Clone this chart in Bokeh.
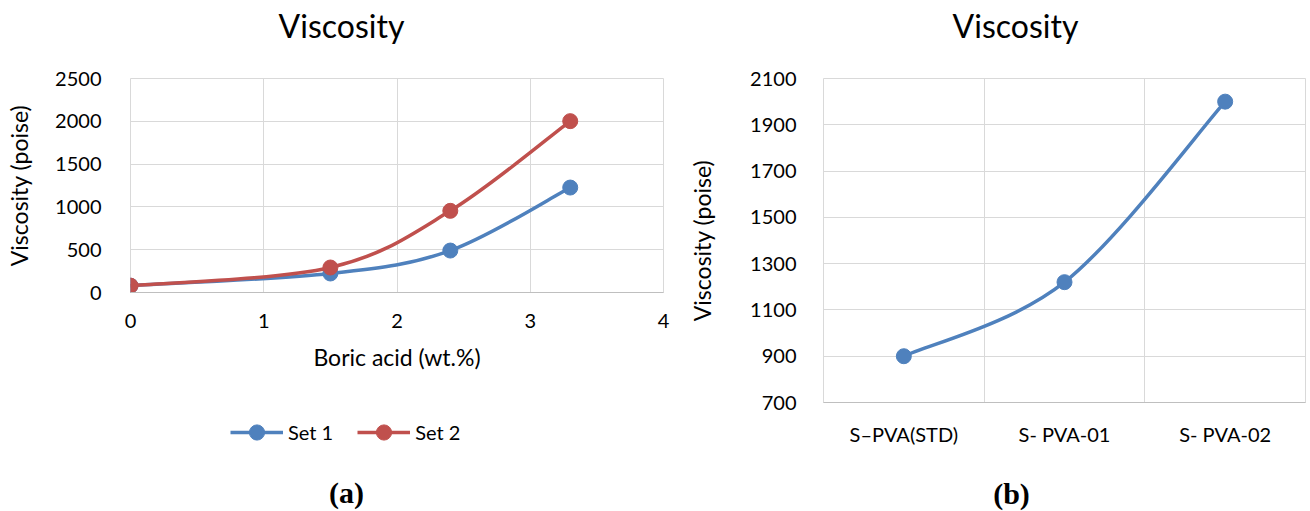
import numpy as np
from bokeh.plotting import figure
from bokeh.layouts import row, column
from bokeh.models import (Label, Legend, LegendItem, FixedTicker, Range1d)
from bokeh.embed import file_html
from bokeh.resources import INLINE

# ---------------- data ----------------
boric_acid = [0, 1.5, 2.4, 3.3]
set1 = [80, 222, 490, 1226]
set2 = [80, 292, 954, 2002]

samples = ["S\u2013PVA(STD)", "S- PVA-01", "S- PVA-02"]
viscosity_b = [900, 1220, 2000]

x_ticks_a = [0, 1, 2, 3, 4]
y_ticks_a = [0, 500, 1000, 1500, 2000, 2500]
y_ticks_b = [700, 900, 1100, 1300, 1500, 1700, 1900, 2100]

BLUE = "#4f81bd"
RED = "#c0504d"
GRID = "#d9d9d9"
FONT = "Lato"


def smooth_segments(xs, ys):
    """Catmull-Rom style Bezier control points (Excel-like smoothing)."""
    x = np.asarray(xs, float)
    y = np.asarray(ys, float)
    xp = np.concatenate([[x[0]], x, [x[-1]]])
    yp = np.concatenate([[y[0]], y, [y[-1]]])
    n = len(x) - 1
    d = dict(x0=[], y0=[], x1=[], y1=[], cx0=[], cy0=[], cx1=[], cy1=[])
    for i in range(n):
        p0x, p0y = xp[i], yp[i]
        p1x, p1y = xp[i + 1], yp[i + 1]
        p2x, p2y = xp[i + 2], yp[i + 2]
        p3x, p3y = xp[i + 3], yp[i + 3]
        d["x0"].append(p1x); d["y0"].append(p1y)
        d["x1"].append(p2x); d["y1"].append(p2y)
        d["cx0"].append(p1x + (p2x - p0x) / 6); d["cy0"].append(p1y + (p2y - p0y) / 6)
        d["cx1"].append(p2x - (p3x - p1x) / 6); d["cy1"].append(p2y - (p3y - p1y) / 6)
    return d


def style(p):
    p.outline_line_color = GRID
    p.xgrid.grid_line_color = GRID
    p.ygrid.grid_line_color = GRID
    for ax in (p.xaxis[0], p.yaxis[0]):
        ax.major_tick_line_color = None
        ax.minor_tick_line_color = None
        ax.major_label_text_font = FONT
        ax.major_label_text_font_size = "20px"
        ax.major_label_text_color = "black"
        ax.axis_label_text_font = FONT
        ax.axis_label_text_font_size = "23px"
        ax.axis_label_text_font_style = "normal"
        ax.axis_label_text_color = "black"
    p.yaxis[0].axis_line_color = None
    p.xaxis[0].axis_line_color = "#bfbfbf"
    p.background_fill_color = "white"
    p.border_fill_color = "white"


def strip(width, height, left, right):
    """Blank strip (no axes) used to hold titles, legend and captions."""
    s = figure(width=width, height=height, output_backend="svg", toolbar_location=None,
               x_range=Range1d(0, 1), y_range=Range1d(0, 1),
               x_axis_type=None, y_axis_type=None,
               min_border_left=left, min_border_right=right,
               min_border_top=0, min_border_bottom=0)
    s.outline_line_color = None
    s.background_fill_color = "white"
    s.border_fill_color = "white"
    return s


def text_label(x, y, text, serif=False):
    return Label(x=x, y=y, x_units="screen", y_units="screen", text=text,
                 text_font="Liberation Serif" if serif else FONT,
                 text_font_size="30px" if serif else "32px",
                 text_font_style="bold" if serif else "normal",
                 text_align="center", text_baseline="middle", text_color="black")


# ---------------- panel (a) ----------------
ta = strip(680, 66, 130, 17)
ta.add_layout(text_label(211, 41, "Viscosity"))

pa = figure(width=680, height=308, output_backend="svg", toolbar_location=None,
            x_range=Range1d(0, 4), y_range=Range1d(0, 2500),
            min_border_left=130, min_border_right=17,
            min_border_top=12, min_border_bottom=82)
style(pa)
pa.xaxis.ticker = FixedTicker(ticks=x_ticks_a)
pa.yaxis.ticker = FixedTicker(ticks=y_ticks_a)
pa.xaxis.axis_label = "Boric acid (wt.%)"
pa.yaxis.axis_label = "Viscosity (poise)"
pa.yaxis.major_label_standoff = 23
pa.yaxis.axis_label_standoff = 19
pa.xaxis.major_label_standoff = 15
pa.xaxis.axis_label_standoff = 12

s1 = smooth_segments(boric_acid, set1)
s2 = smooth_segments(boric_acid, set2)
pa.bezier(line_color=BLUE, line_width=3.5, **s1)
pa.scatter(boric_acid, set1, size=15, fill_color=BLUE, line_color=BLUE)
pa.bezier(line_color=RED, line_width=3.5, **s2)
pa.scatter(boric_acid, set2, size=15, fill_color=RED, line_color=RED)

pl = strip(680, 137, 130, 17)
pl.x_range = Range1d(0, 4)
pl.y_range = Range1d(0, 2500)
lb1 = pl.bezier(line_color=BLUE, line_width=3.5, visible=False, **s1)
ls1 = pl.scatter(boric_acid, set1, size=15, fill_color=BLUE, line_color=BLUE, visible=False)
lb2 = pl.bezier(line_color=RED, line_width=3.5, visible=False, **s2)
ls2 = pl.scatter(boric_acid, set2, size=15, fill_color=RED, line_color=RED, visible=False)
legend = Legend(items=[LegendItem(label="Set 1", renderers=[lb1, ls1]),
                       LegendItem(label="Set 2", renderers=[lb2, ls2])],
                orientation="horizontal", location=(100, 60),
                glyph_width=53, glyph_height=38, label_standoff=5, spacing=24,
                padding=0, margin=0, border_line_color=None,
                background_fill_alpha=0, inactive_fill_alpha=0,
                click_policy="none",
                label_text_font=FONT, label_text_font_size="20px",
                label_text_color="black")
pl.add_layout(legend, "center")
pl.add_layout(text_label(216, 19, "(a)", serif=True))

# ---------------- panel (b) ----------------
tb = strip(630, 66, 143, 5)
tb.add_layout(text_label(192, 41, "Viscosity"))

xb = [i + 0.5 for i in range(len(samples))]
pb = figure(width=630, height=396, output_backend="svg", toolbar_location=None,
            x_range=Range1d(0, 3), y_range=Range1d(700, 2100),
            min_border_left=143, min_border_right=5,
            min_border_top=12, min_border_bottom=60)
style(pb)
pb.xaxis.ticker = FixedTicker(ticks=xb)
pb.xaxis.major_label_overrides = {v: s for v, s in zip(xb, samples)}
pb.xgrid.ticker = FixedTicker(ticks=list(range(len(samples) + 1)))
pb.yaxis.ticker = FixedTicker(ticks=y_ticks_b)
pb.yaxis.axis_label = "Viscosity (poise)"
pb.yaxis.major_label_standoff = 21
pb.yaxis.axis_label_standoff = 31
pb.xaxis.major_label_standoff = 13

sb = smooth_segments(xb, viscosity_b)
pb.bezier(line_color=BLUE, line_width=3.5, **sb)
pb.scatter(xb, viscosity_b, size=15, fill_color=BLUE, line_color=BLUE)

bb = strip(630, 49, 143, 5)
bb.add_layout(text_label(188, 18, "(b)", serif=True))

layout = row(column(ta, pa, pl), column(tb, pb, bb))
open("out.html", "w").write(file_html(layout, INLINE))
